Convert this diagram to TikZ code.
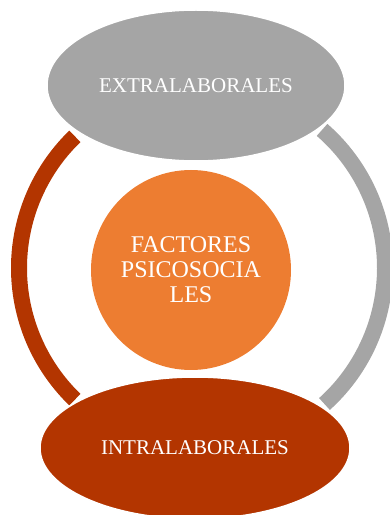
\documentclass[tikz,border=0pt]{standalone}
\usepackage{fontspec}
\setmainfont{Liberation Serif}
\usetikzlibrary{shapes.geometric}
\definecolor{gris}{HTML}{A5A5A5}
\definecolor{naranja}{HTML}{ED7D31}
\definecolor{rojizo}{HTML}{B33500}
\begin{document}
\begin{tikzpicture}[x=1pt, y=1pt, every node/.style={ellipse, inner sep=0pt, text=white, align=center, font=\fontsize{21}{25}\selectfont}]
\useasboundingbox (0,0) rectangle (390,515);
\coordinate (arco) at (202,247);
\draw[rojizo, line width=16pt] ([shift={(134:183)}]arco) arc[start angle=134, end angle=226, radius=183];
\draw[gris, line width=16pt] ([shift={(-48:183)}]arco) arc[start angle=-48, end angle=49, radius=183];
\node[fill=gris, draw=white, line width=1.5pt, minimum width=298pt, minimum height=151pt] (extra) at (196,429.5) {EXTRALABORALES};
\node[fill=rojizo, draw=white, line width=1.5pt, minimum width=310pt, minimum height=142pt] (intra) at (195,67) {INTRALABORALES};
\node[circle, fill=naranja, minimum size=200pt, font=\fontsize{24}{25}\selectfont] (factores) at (191,245) {FACTORES\\PSICOSOCIA\\LES};
\end{tikzpicture}
\end{document}
